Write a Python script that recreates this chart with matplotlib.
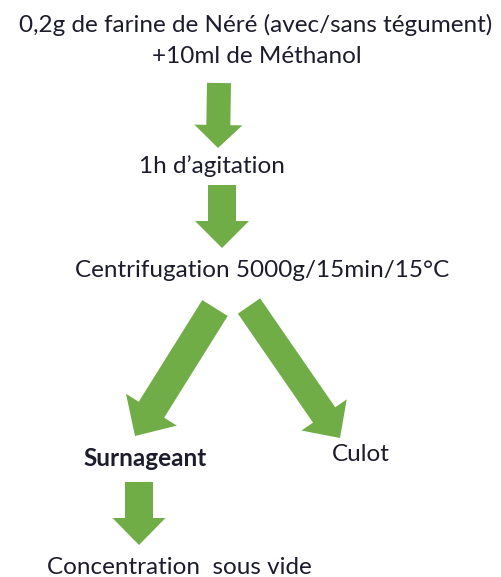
import numpy as np
import matplotlib
matplotlib.use("Agg")
import matplotlib.pyplot as plt
from matplotlib.patches import Polygon

plt.rcParams['font.family'] = ['Lato', 'DejaVu Sans']

GREEN = '#70ad47'
INK = '#1c1c2c'

# steps of the protocol: text, x centre, baseline y (pixels), bold
labels = ["0,2g de farine de Néré (avec/sans tégument)",
          "+10ml de Méthanol",
          "1h d\u2019agitation",
          "Centrifugation 5000g/15min/15°C",
          "Surnageant",
          "Culot",
          "Concentration  sous vide"]
label_x = [256, 257, 212, 262, 145, 361, 179]
label_y = [32, 63, 173, 277, 466, 461, 574]
label_bold = [False, False, False, False, True, False, False]

# block arrows: tail centre, tip, shaft width, head width, head length
arrow_tail = [(219, 83), (222, 185), (215, 308), (249, 306), (139, 482)]
arrow_tip = [(218, 148), (222, 248), (135, 436), (340, 438), (139, 545)]
arrow_shaft = [24, 28, 30, 27, 28]
arrow_head_w = [48, 54, 60, 55, 53]
arrow_head_l = [23, 27, 31, 28, 27]


def block_arrow(tail, tip, sw, hw, hl):
    tail = np.array(tail, float)
    tip = np.array(tip, float)
    d = tip - tail
    d = d / np.hypot(*d)
    n = np.array([-d[1], d[0]])
    base = tip - d * hl
    pts = [tail + n * sw / 2, base + n * sw / 2, base + n * hw / 2, tip,
           base - n * hw / 2, base - n * sw / 2, tail - n * sw / 2]
    return np.array(pts)


fig = plt.figure(figsize=(5.02, 5.77), dpi=100)
ax = fig.add_axes([0, 0, 1, 1])
ax.set_xlim(0, 502)
ax.set_ylim(577, 0)
ax.axis('off')

for i in range(len(arrow_tail)):
    pts = block_arrow(arrow_tail[i], arrow_tip[i], arrow_shaft[i],
                      arrow_head_w[i], arrow_head_l[i])
    ax.add_patch(Polygon(pts, closed=True, facecolor=GREEN, edgecolor='none'))

for i in range(len(labels)):
    ax.text(label_x[i], label_y[i], labels[i], ha='center', va='baseline',
            fontsize=17.5, color=INK,
            fontweight='bold' if label_bold[i] else 'normal')

fig.savefig('out.png', dpi=100)
